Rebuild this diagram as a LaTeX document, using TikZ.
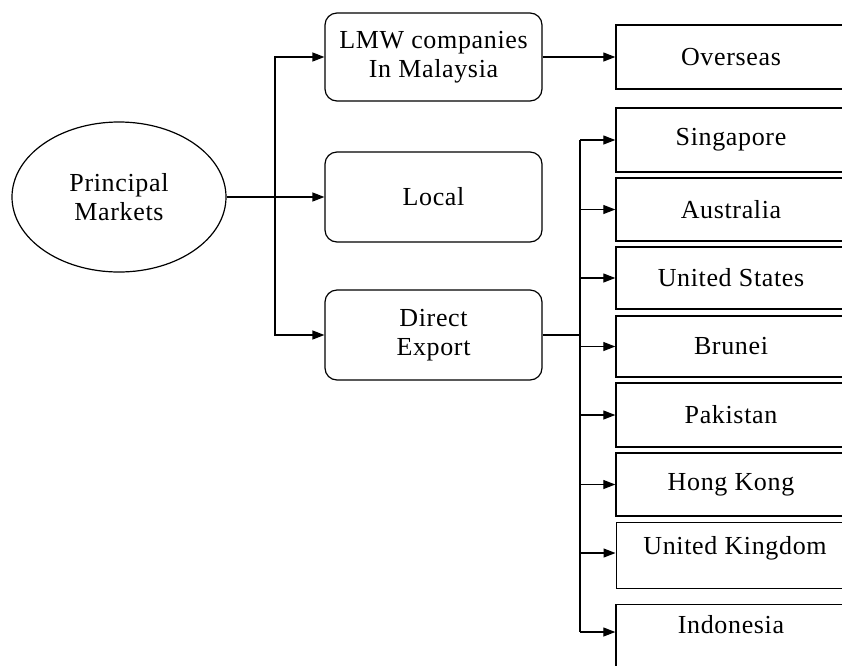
\documentclass[tikz,border=0pt]{standalone}
\usepackage{fontspec}
\setmainfont[LetterSpace=2.5]{Liberation Serif}
\usetikzlibrary{arrows.meta,shapes.geometric}
\tikzset{
  every node/.style={font=\fontsize{26}{29}\selectfont},
  conn/.style={line width=1.2pt},
  arr/.style={conn,-{Triangle[length=12pt,width=9pt]}},
  rbox/.style={draw,line width=1.2pt,rounded corners=12pt,minimum width=217pt,align=center,inner sep=0pt},
  cbox/.style={draw,line width=1.4pt,minimum width=230pt,inner sep=0pt},
}
\begin{document}
\begin{tikzpicture}[x=1pt,y=-1pt]
\useasboundingbox (0,0) rectangle (842,665);
\clip (0,0) rectangle (842,665);
% left
\node[draw,ellipse,line width=1.2pt,minimum width=214pt,minimum height=150pt,inner sep=0pt,align=center] (pm) at (119,197) {Principal\\Markets};
\node[rbox,minimum height=88pt] (lmw) at (433.5,57) {LMW companies\\In Malaysia};
\node[rbox,minimum height=90pt] (loc) at (433.5,197) {Local};
\node[rbox,minimum height=90pt] (de) at (433.5,335) {Direct\\Export};
\coordinate (j1) at (275,197);
\draw[conn] (pm.east) -- (j1);
\draw[arr] (j1) -- (loc.west);
\draw[arr] (j1) |- (lmw.west);
\draw[arr] (j1) |- (de.west);
% right
\node[cbox,minimum height=64pt] (ov) at (731,57) {Overseas};
\draw[arr] (lmw.east) -- (ov.west);
\node[cbox,minimum height=64pt] (sg) at (731,140) {Singapore};
\node[cbox,minimum height=63pt] (au) at (731,209.5) {Australia};
\node[cbox,minimum height=62pt] (us) at (731,278) {United States};
\node[cbox,minimum height=61pt] (bn) at (731,346.5) {Brunei};
\node[cbox,minimum height=64pt] (pk) at (731,415) {Pakistan};
\node[cbox,minimum height=63pt] (hk) at (731,484.5) {Hong Kong};
\node[cbox,minimum height=66pt,line width=1pt] (uk) at (731,555) {};
\node (ukt) at (735,548) {United Kingdom};
\node[cbox,minimum height=80pt,anchor=north] (id) at (731,604) {};
\node (idt) at (731,625) {Indonesia};
\coordinate (j2) at (580,335);
\coordinate (jt) at (580,140);
\coordinate (jb) at (580,632);
\draw[conn] (de.east) -- (j2);
\draw[conn] (jt) -- (jb);
\draw[arr] (jt) -- (sg.west);
\draw[arr] (j2 |- au.west) -- (au.west);
\draw[arr] (j2 |- us.west) -- (us.west);
\draw[arr] (j2 |- bn.west) -- (bn.west);
\draw[arr] (j2 |- pk.west) -- (pk.west);
\draw[arr] (j2 |- hk.west) -- (hk.west);
\draw[arr] (580,553) -- (uk.west |- 0,553);
\draw[arr] (jb) -- (id.west |- jb);
\end{tikzpicture}
\end{document}
